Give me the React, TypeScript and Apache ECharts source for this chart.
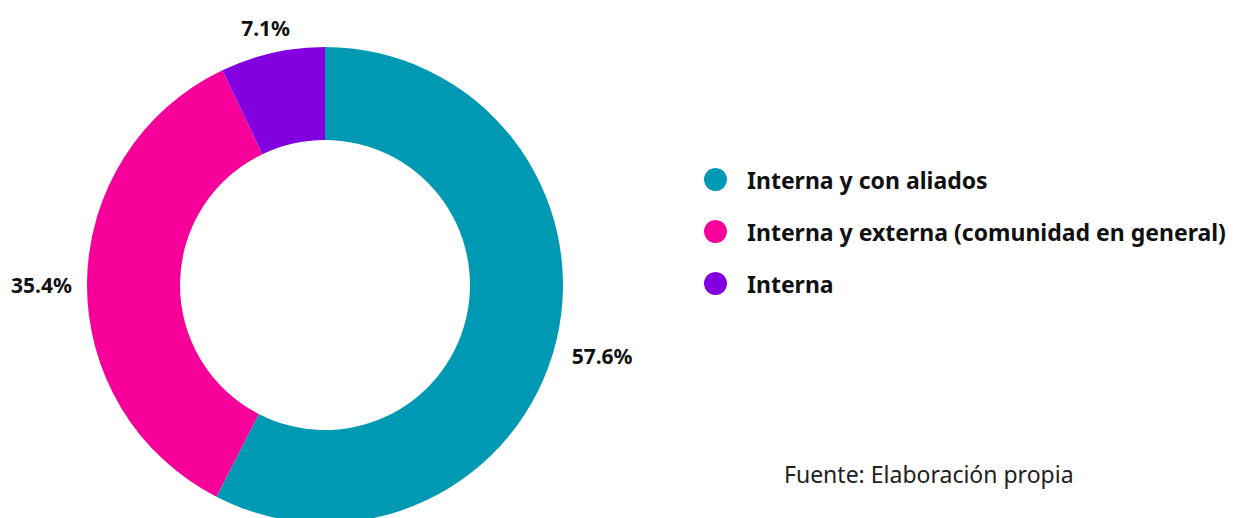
import React, { useEffect, useRef } from "react";
import * as echarts from "echarts";

const categories = [
  "Interna y con aliados",
  "Interna y externa (comunidad en general)",
  "Interna",
];
const values = [57.6, 35.4, 7.1];
const colors = ["#0099B4", "#F7009A", "#8200E0"];
const sourceText = "Fuente: Elaboración propia";

const CX = 325;
const CY = 285;
const R_IN = 145;
const R_OUT = 238;
const GAP = 15;
const FONT = "'Noto Sans', sans-serif";

export default function App() {
  const ref = useRef<HTMLDivElement>(null);
  useEffect(() => {
    document.body.style.margin = "0";
    const chart = echarts.init(ref.current!, null, { renderer: "svg" });
    const total = values.reduce((a, b) => a + b, 0);
    const mids: number[] = [];
    let acc = 0;
    values.forEach((v) => {
      mids.push(((acc + v / 2) / total) * Math.PI * 2);
      acc += v;
    });
    chart.setOption({
      animation: false,
      color: colors,
      legend: {
        orient: "vertical",
        left: 704,
        top: 168,
        padding: 0,
        icon: "circle",
        itemWidth: 23,
        itemHeight: 23,
        itemGap: 29,
        data: categories,
        textStyle: {
          fontFamily: FONT,
          fontWeight: "bold",
          fontSize: 23,
          color: "#111",
          padding: [0, 0, 0, 15],
        },
      },
      title: {
        text: sourceText,
        left: 784,
        top: 462,
        padding: 0,
        textStyle: {
          fontFamily: FONT,
          fontWeight: "normal",
          fontSize: 23,
          color: "#222",
        },
      },
      series: [
        {
          type: "pie",
          center: [CX, CY],
          radius: [R_IN, R_OUT],
          startAngle: 90,
          clockwise: true,
          data: categories.map((c, i) => ({ name: c, value: values[i] })),
          label: {
            show: true,
            position: "outside",
            overflow: "none",
            formatter: (p: any) => p.value.toFixed(1) + "%",
            fontFamily: FONT,
            fontWeight: "bold",
            fontSize: 21,
            color: "#111",
          },
          labelLine: { show: false },
          labelLayout: (params: any) => {
            const a = mids[params.dataIndex];
            const ux = Math.sin(a);
            const uy = -Math.cos(a);
            const w = params.labelRect.width;
            const h = params.labelRect.height;
            const d = R_OUT + GAP + (Math.abs(ux) * w) / 2 + (Math.abs(uy) * h) / 2;
            return {
              x: CX + ux * d,
              y: CY + uy * d + h / 2 - 6,
              align: "center",
              verticalAlign: "middle",
            };
          },
          emphasis: { disabled: true },
        },
      ],
    });
    return () => chart.dispose();
  }, []);
  return <div ref={ref} style={{ width: 1234, height: 518 }} />;
}
